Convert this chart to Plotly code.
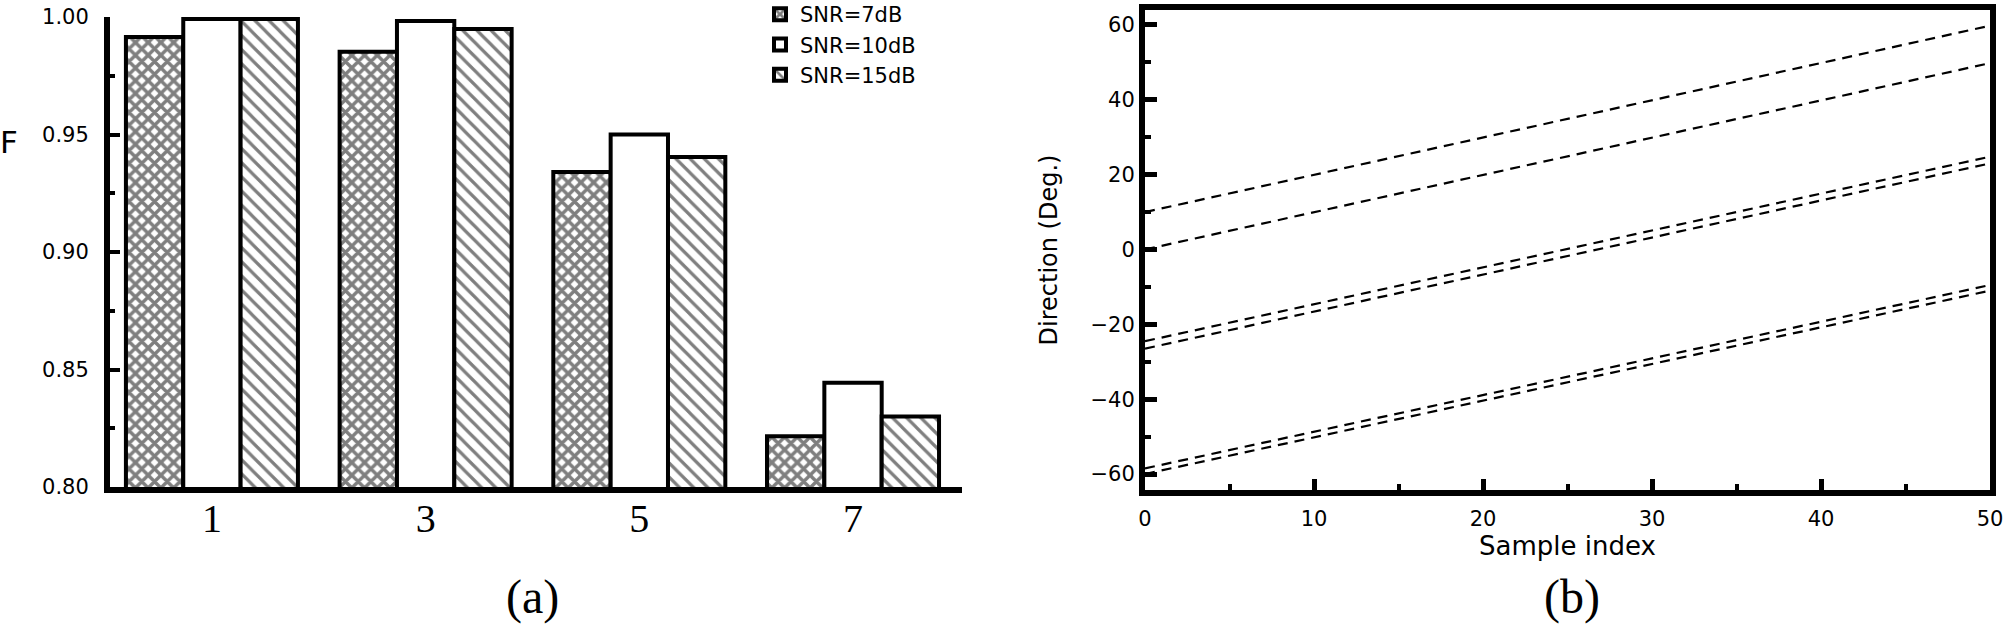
import plotly.graph_objects as go

W, H = 2006, 624
H_FIG = 680  # figure a bit taller than the window so bottom labels are not squeezed

# ---------------- panel (a) data ----------------
groups = ["1", "3", "5", "7"]
series_names = ["SNR=7dB", "SNR=10dB", "SNR=15dB"]
f_snr7 = [0.9915, 0.9852, 0.9340, 0.8216]
f_snr10 = [0.9992, 0.9983, 0.9500, 0.8444]
f_snr15 = [0.9992, 0.9949, 0.9404, 0.8300]
y_ticks_a = [0.80, 0.85, 0.90, 0.95, 1.00]

# ---------------- panel (b) data ----------------
sample_index = [0, 50]
track_1 = [10.0, 59.8]
track_2 = [0.0, 49.8]
track_3 = [-24.5, 24.8]
track_4 = [-26.5, 23.0]
track_5 = [-58.5, -9.5]
track_6 = [-60.0, -11.0]
tracks = [track_1, track_2, track_3, track_4, track_5, track_6]


def px_x(p):
    return p / W


def px_y(p):
    return 1 - p / H_FIG


SANS = "DejaVu Sans"
SERIF = "Liberation Serif"

fig = go.Figure()

bar_styles = [
    dict(shape="x", size=9, solidity=0.62),
    None,
    dict(shape="\\", size=10, solidity=0.32),
]
for name, vals, pat in zip(series_names, [f_snr7, f_snr10, f_snr15], bar_styles):
    marker = dict(color="white", line=dict(color="black", width=4))
    if pat is not None:
        marker["pattern"] = dict(fgcolor="black", bgcolor="white", **pat)
    fig.add_trace(go.Bar(x=groups, y=vals, name=name, marker=marker,
                         xaxis="x", yaxis="y"))

for tr in tracks:
    fig.add_trace(go.Scatter(x=sample_index, y=tr, mode="lines",
                             line=dict(color="black", width=2.2, dash="10px,7px"),
                             showlegend=False, xaxis="x2", yaxis="y2"))

fig.update_layout(
    width=W, height=H_FIG,
    margin=dict(l=0, r=0, t=0, b=0, autoexpand=False),
    paper_bgcolor="white", plot_bgcolor="white",
    barmode="group", bargap=0.195, bargroupgap=0,
    font=dict(family=SANS, color="black"),
    showlegend=True,
    legend=dict(x=px_x(760), y=px_y(-6), xanchor="left", yanchor="top",
                font=dict(family=SANS, size=21, color="black"),
                bgcolor="rgba(0,0,0,0)", traceorder="normal",
                tracegroupgap=0),
    xaxis=dict(domain=[px_x(110), px_x(962)], type="category",
               range=[-0.477, 3.51], showline=True, linecolor="black",
               linewidth=6, ticks="", showgrid=False, zeroline=False,
               tickfont=dict(family=SERIF, size=40, color="black"),
               ticklabelstandoff=-9, anchor="y", automargin=False),
    yaxis=dict(domain=[px_y(487), px_y(17)], range=[0.8, 1.0],
               showline=True, linecolor="black", linewidth=6,
               ticks="inside", ticklen=10, tickwidth=4, tickcolor="black",
               tickvals=y_ticks_a, tickformat=".2f",
               minor=dict(dtick=0.025, ticks="inside", ticklen=5,
                          tickwidth=4, tickcolor="black", showgrid=False),
               showgrid=False, zeroline=False,
               tickfont=dict(family=SANS, size=21, color="black"),
               ticklabelstandoff=11,
               anchor="x", automargin=False),
    xaxis2=dict(domain=[px_x(1145), px_x(1990)], range=[0, 50],
                showline=True, mirror=True, linecolor="black", linewidth=6,
                ticks="inside", ticklen=11, tickwidth=5, tickcolor="black",
                dtick=10, tick0=0,
                minor=dict(dtick=5, ticks="inside", ticklen=6, tickwidth=4,
                           tickcolor="black", showgrid=False),
                showgrid=False, zeroline=False,
                tickfont=dict(family=SANS, size=21, color="black"),
                ticklabelstandoff=5,
                title=dict(text="Sample index", font=dict(family=SANS, size=26, color="black"),
                           standoff=0),
                anchor="y2", automargin=False),
    yaxis2=dict(domain=[px_y(490), px_y(10)], range=[-64.27, 64.0],
                showline=True, mirror=True, linecolor="black", linewidth=6,
                ticks="inside", ticklen=12, tickwidth=5, tickcolor="black",
                dtick=20, tick0=0,
                minor=dict(dtick=10, ticks="inside", ticklen=6, tickwidth=4,
                           tickcolor="black", showgrid=False),
                showgrid=False, zeroline=False,
                tickfont=dict(family=SANS, size=21, color="black"),
                title=dict(text="Direction (Deg.)", font=dict(family=SANS, size=24, color="black"),
                           standoff=28),
                anchor="x2", automargin=False),
    annotations=[
        dict(text="F", x=px_x(9), y=px_y(142), xref="paper", yref="paper",
             xanchor="center", yanchor="middle",
             showarrow=False, font=dict(family=SANS, size=31, color="black")),
        dict(text="(a)", x=px_x(532), y=px_y(597), xref="paper", yref="paper",
             xanchor="center", yanchor="middle",
             showarrow=False, font=dict(family=SERIF, size=48, color="black")),
        dict(text="(b)", x=px_x(1572), y=px_y(597), xref="paper", yref="paper",
             xanchor="center", yanchor="middle",
             showarrow=False, font=dict(family=SERIF, size=48, color="black")),
    ],
)

fig.write_html(
    "out.html",
    config={"displayModeBar": False},
    post_script="document.body.style.margin='0px';"
                "document.documentElement.style.overflow='hidden';"
                "document.body.style.overflow='hidden';",
)
